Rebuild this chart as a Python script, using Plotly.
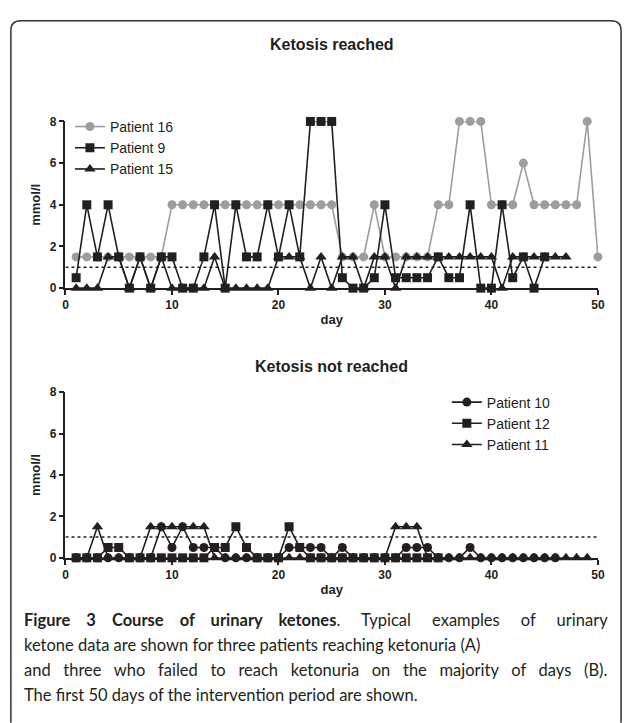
import plotly.graph_objects as go

W, H = 630, 723

# ---------------- data ----------------
days_p16 = list(range(1, 51))
p16 = [1.5, 1.5, 1.5, 1.5, 1.5, 1.5, 1.5, 1.5, 1.5,
       4, 4, 4, 4, 4, 4, 4, 4, 4, 4, 4, 4, 4, 4, 4, 4,
       1.5, 1.5, 1.5, 4, 1.5, 1.5, 1.5, 1.5, 1.5,
       4, 4, 8, 8, 8, 4, 4, 4, 6, 4, 4, 4, 4, 4, 8, 1.5]

days_p9 = list(range(1, 46))
p9 = [0.5, 4, 1.5, 4, 1.5, 0, 1.5, 0, 1.5, 1.5,
      0, 0, 1.5, 4, 0, 4, 1.5, 1.5, 4, 1.5,
      4, 1.5, 8, 8, 8, 0.5, 0, 0, 0.5, 4,
      0.5, 0.5, 0.5, 0.5, 1.5, 0.5, 0.5, 4, 0, 0,
      4, 0.5, 1.5, 0, 1.5]

days_p15 = list(range(1, 48))
p15 = [0, 0, 0, 1.5, 1.5, 0, 1.5, 0, 1.5, 0,
       0, 0, 0, 1.5, 0, 0, 0, 0, 0, 1.5,
       1.5, 1.5, 0, 1.5, 0, 1.5, 1.5, 0, 1.5, 1.5,
       0, 1.5, 1.5, 1.5, 1.5, 1.5, 1.5, 1.5, 1.5, 1.5,
       0, 1.5, 1.5, 1.5, 1.5, 1.5, 1.5]

days_p10 = list(range(1, 47))
p10 = [0, 0, 0, 0, 0, 0, 0, 0, 1.5, 0.5,
       1.5, 0.5, 0.5, 0.5, 0, 0, 0, 0, 0, 0,
       0.5, 0.5, 0.5, 0.5, 0, 0.5, 0, 0, 0, 0,
       0, 0.5, 0.5, 0.5, 0, 0, 0, 0.5, 0, 0,
       0, 0, 0, 0, 0, 0]

days_p12 = list(range(1, 36))
p12 = [0, 0, 0, 0.5, 0.5, 0, 0, 0, 0, 0,
       0, 0, 0, 0.5, 0.5, 1.5, 0.5, 0, 0, 0,
       1.5, 0.5, 0, 0, 0, 0, 0, 0, 0, 0,
       0, 0, 0, 0, 0]

days_p11 = list(range(1, 50))
p11 = [0, 0, 1.5, 0, 0, 0, 0, 1.5, 1.5, 1.5,
       1.5, 1.5, 1.5, 0, 0, 0, 0, 0, 0, 0,
       0, 0, 0, 0, 0, 0, 0, 0, 0, 0,
       1.5, 1.5, 1.5, 0, 0, 0, 0, 0, 0, 0,
       0, 0, 0, 0, 0, 0, 0, 0, 0]

KETOSIS_THRESHOLD = 1
x_ticks = [0, 10, 20, 30, 40, 50]
y_ticks = [0, 2, 4, 6, 8]

title_top = "Ketosis reached"
title_bottom = "Ketosis not reached"
caption_bold = "Figure 3 Course of urinary ketones"
caption_lines = [
    ". Typical examples of urinary",
    "ketone data are shown for three patients reaching ketonuria (A)",
    "and three who failed to reach ketonuria on the majority of days (B).",
    "The first 50 days of the intervention period are shown.",
]

# ---------------- styling ----------------
BLACK = "#231f20"
GREY = "#9d9d9d"
FONT = "Liberation Sans, Arial, sans-serif"
CAP_FONT = "Lato, Open Sans, sans-serif"


def px_x(p):
    return p / W


def px_y(p):
    return 1 - p / H


def justify(text, extra):
    """widen word gaps with non-breaking spaces (justified caption lines)"""
    return (" " + "&nbsp;" * extra).join(text.split(" "))


fig = go.Figure()


def add(x, y, name, color, symbol, size, xa, ya, legend, rank):
    fig.add_trace(go.Scatter(
        x=x, y=y, name=name, mode="lines+markers",
        line=dict(color=color, width=1.6),
        marker=dict(color=color, symbol=symbol, size=size),
        xaxis=xa, yaxis=ya, legend=legend, legendrank=rank,
        cliponaxis=False,
    ))


# top panel (draw order: grey bottom, triangles, squares on top)
add(days_p16, p16, "Patient 16", GREY, "circle", 9, "x", "y", "legend", 1)
add(days_p15, p15, "Patient 15", BLACK, "triangle-up", 10, "x", "y", "legend", 3)
add(days_p9, p9, "Patient 9", BLACK, "square", 9, "x", "y", "legend", 2)

# bottom panel
add(days_p11, p11, "Patient 11", BLACK, "triangle-up", 10, "x2", "y2", "legend2", 3)
add(days_p10, p10, "Patient 10", BLACK, "circle", 9, "x2", "y2", "legend2", 1)
add(days_p12, p12, "Patient 12", BLACK, "square", 9, "x2", "y2", "legend2", 2)

axis_common = dict(
    showline=True, linecolor=BLACK, linewidth=1.5,
    ticks="outside", ticklen=5, tickwidth=1.5, tickcolor=BLACK,
    showgrid=False, zeroline=False,
    tickfont=dict(family=FONT, size=12, color=BLACK, weight="bold"),
)
title_font = dict(family=FONT, size=13, color=BLACK, weight="bold")

xdom = [px_x(63.5), px_x(604.5)]

fig.update_layout(
    width=W, height=H,
    margin=dict(l=0, r=0, t=0, b=0),
    paper_bgcolor="white", plot_bgcolor="white",
    font=dict(family=FONT, color=BLACK),
    xaxis=dict(domain=xdom, range=[0, 50], tickvals=x_ticks, anchor="y",
               title=dict(text="day", standoff=4, font=title_font), **axis_common),
    yaxis=dict(domain=[px_y(286.7), px_y(116.7)], range=[0, 8], tickvals=y_ticks, anchor="x",
               title=dict(text="mmol/l", standoff=6, font=title_font), **axis_common),
    xaxis2=dict(domain=xdom, range=[0, 50], tickvals=x_ticks, anchor="y2",
                title=dict(text="day", standoff=4, font=title_font), **axis_common),
    yaxis2=dict(domain=[px_y(561.7), px_y(392.7)], range=[0, 8], tickvals=y_ticks, anchor="x2",
                title=dict(text="mmol/l", standoff=6, font=title_font), **axis_common),
    legend=dict(x=px_x(68), y=px_y(106), xanchor="left", yanchor="top",
                bgcolor="rgba(0,0,0,0)", itemwidth=30, tracegroupgap=0,
                font=dict(family=FONT, size=14, color=BLACK)),
    legend2=dict(x=px_x(451), y=px_y(387), xanchor="left", yanchor="top",
                 bgcolor="rgba(0,0,0,0)", itemwidth=30, tracegroupgap=0,
                 font=dict(family=FONT, size=14, color=BLACK)),
)

# threshold dotted lines
for xr, yr in (("x", "y"), ("x2", "y2")):
    fig.add_shape(type="line", xref=xr, yref=yr, x0=0, x1=50,
                  y0=KETOSIS_THRESHOLD, y1=KETOSIS_THRESHOLD,
                  line=dict(color=BLACK, width=1.5, dash="dot"), layer="below")

# panel titles
for txt, ypx in ((title_top, 38), (title_bottom, 367)):
    fig.add_annotation(text=txt, xref="paper", yref="paper", x=px_x(334), y=px_y(ypx),
                       xanchor="center", yanchor="middle", showarrow=False,
                       font=dict(family=FONT, size=16, color=BLACK, weight="bold"))

# caption (lines 1 and 3 are justified in the original)
cap_texts = [
    "<b>" + justify(caption_bold, 3) + "</b>" + justify(caption_lines[0], 4),
    caption_lines[1],
    justify(caption_lines[2], 2),
    caption_lines[3],
]
for i, line in enumerate(cap_texts):
    fig.add_annotation(text=line, xref="paper", yref="paper", x=px_x(19),
                       y=px_y(625 + 25.5 * i), xanchor="left", yanchor="middle",
                       showarrow=False, font=dict(family=CAP_FONT, size=16.5, color=BLACK))

# rounded frame
fig.add_shape(type="path", xref="paper", yref="paper",
              path=(f"M {px_x(8)},{px_y(730)} L {px_x(8)},{px_y(24)} "
                    f"Q {px_x(8)},{px_y(14)} {px_x(18)},{px_y(14)} "
                    f"L {px_x(618)},{px_y(14)} Q {px_x(628)},{px_y(14)} {px_x(628)},{px_y(24)} "
                    f"L {px_x(628)},{px_y(730)}"),
              line=dict(color="#333333", width=1.5))

fig.write_html("out.html", config={"displayModeBar": False},
               post_script="document.body.style.margin='0';")
